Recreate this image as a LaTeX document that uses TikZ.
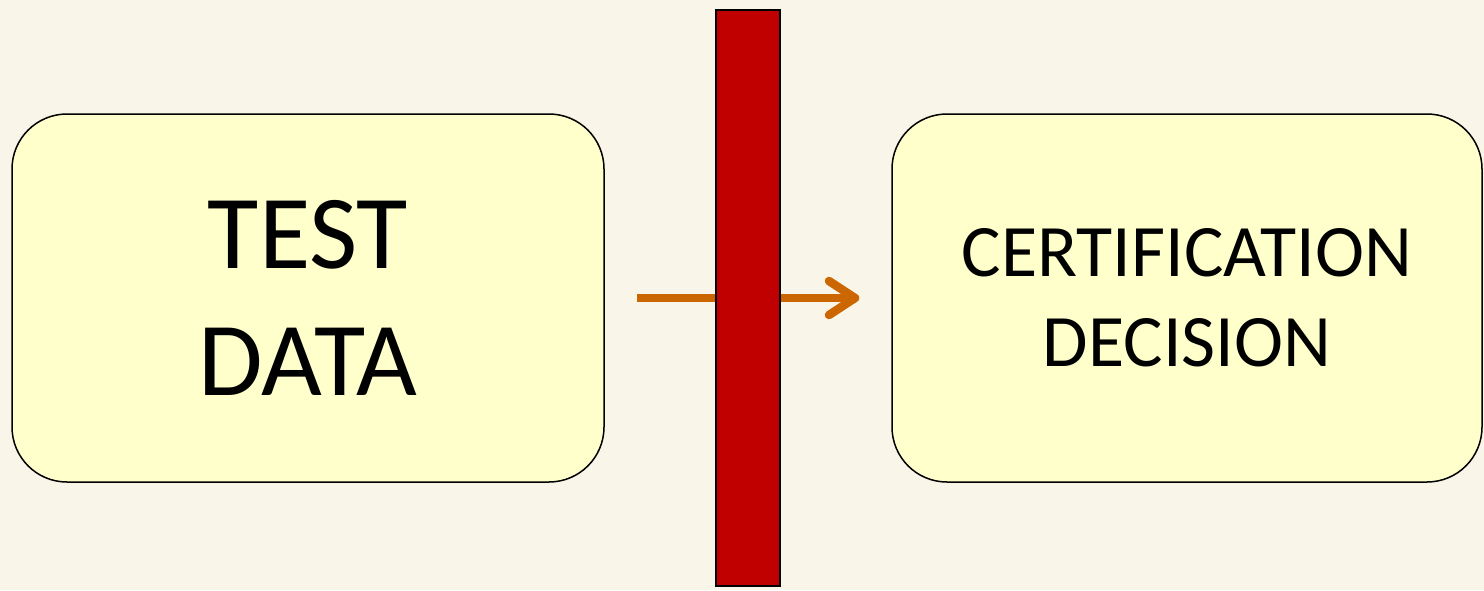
\documentclass[tikz,border=0pt]{standalone}
\usepackage{fontspec}
\setmainfont{Carlito}
\usetikzlibrary{arrows.meta}
\definecolor{bgc}{HTML}{F9F5E9}
\definecolor{boxc}{HTML}{FFFFCC}
\definecolor{barc}{HTML}{C00000}
\definecolor{arrc}{HTML}{CC6600}
\tikzset{
  panel/.style={draw=black, line width=1.5pt, fill=boxc, rounded corners=55pt, minimum height=368pt, inner sep=0pt},
  blocker/.style={draw=black, line width=2pt, fill=barc, minimum width=64pt, minimum height=576pt, inner sep=0pt},
  flow/.style={draw=arrc, line width=8.5pt, -{Straight Barb[length=26pt, width=34pt, round]}},
  bigtext/.style={align=center, inner sep=0pt, font=\fontsize{105pt}{127pt}\selectfont},
  midtext/.style={align=center, inner sep=0pt, font=\fontsize{74pt}{90pt}\selectfont}
}
\begin{document}
\begin{tikzpicture}[x=1pt, y=-1pt]
\fill[bgc] (0,0) rectangle (1484,590);
\useasboundingbox (0,0) rectangle (1484,590);
\node[panel, minimum width=592pt] (test) at (308,298) {};
\node[panel, minimum width=590pt] (cert) at (1187,298) {};
\node[bigtext] (testlbl) at (test.center) {TEST\\DATA};
\node[midtext] (certlbl) at (cert.center) {CERTIFICATION\\DECISION};
\draw[flow] ([xshift=32pt]test.east) -- ([xshift=-32pt]cert.west);
\node[blocker] (bar) at (748,298) {};
\end{tikzpicture}
\end{document}
